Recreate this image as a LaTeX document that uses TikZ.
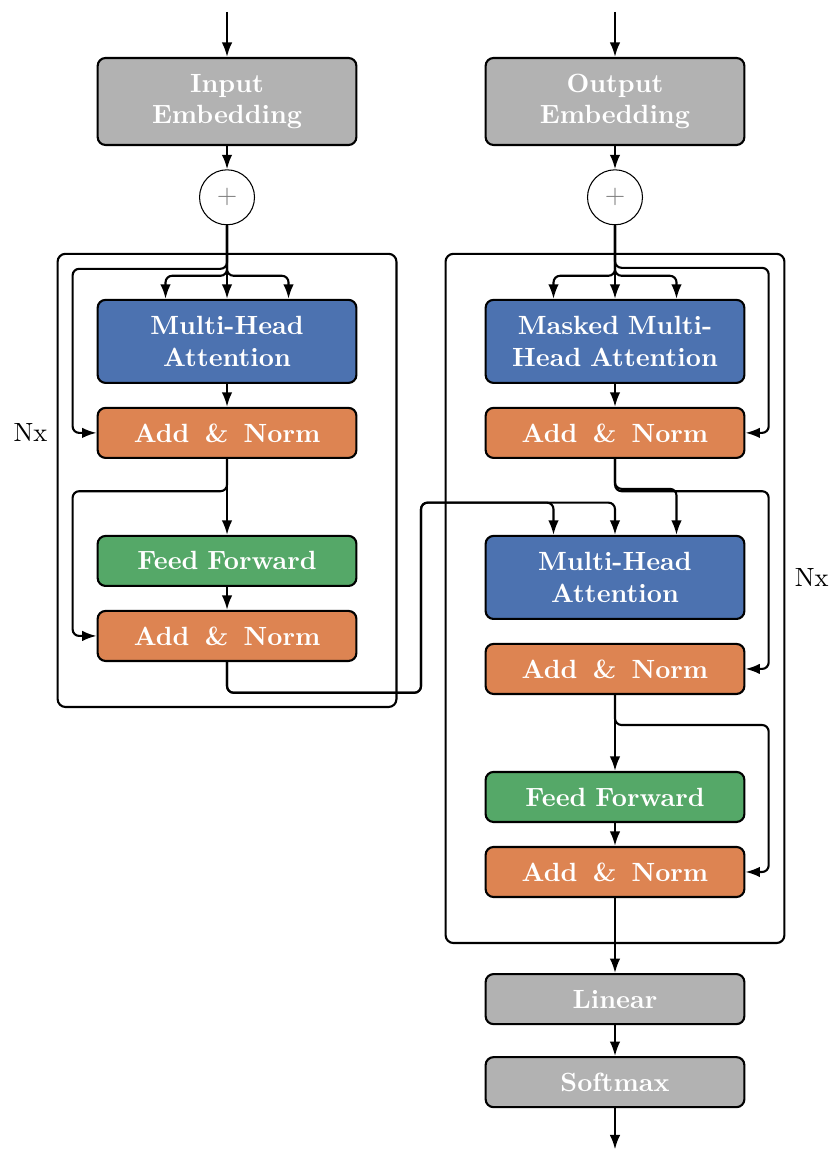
\documentclass[tikz,border=0pt]{standalone}
\usepackage{xcolor}
\usepackage{tikz}
\usetikzlibrary{shapes,arrows.meta,positioning,fit,calc}

\definecolor{attnblue}{HTML}{4C72B0}
\definecolor{normorange}{HTML}{DD8452}
\definecolor{ffgreen}{HTML}{55A868}

\begin{document}
\begin{tikzpicture}[
    >={Latex[length=5.5pt,width=4pt]},
    block/.style={rectangle, draw, thick, rounded corners=3pt, fill=black!30, text=white, text width=3.05cm, inner xsep=0.2cm, inner ysep=2pt, align=center, minimum height=0.667cm, font=\bfseries},
    tall/.style={block, minimum height=1.107cm},
    sumnode/.style={circle, draw, thin, minimum size=0.733cm, inner sep=0pt, text=gray},
    stack/.style={draw, thick, rounded corners=3pt, inner xsep=0.52cm, inner ysep=0.6cm},
    resid/.style={->, thick, rounded corners=2.5pt}
]

\useasboundingbox (0,0) rectangle (11.093,-15.32);

% encoder
\node[tall, minimum height=1.16cm] (inemb) at (3.027,-1.353) {Input\\Embedding};
\node[sumnode, below=0.31cm of inemb] (encsum) {$+$};
\node[tall, fill=attnblue, below=0.98cm of encsum] (encattn) {Multi-Head\\Attention};
\node[block, fill=normorange, below=0.305cm of encattn] (encnorm1) {Add\hspace{0.58em}\&\hspace{0.58em}Norm};
\node[block, fill=ffgreen, below=1.012cm of encnorm1] (encff) {Feed Forward};
\node[block, fill=normorange, below=0.305cm of encff] (encnorm2) {Add\hspace{0.58em}\&\hspace{0.58em}Norm};
\node[stack, fit=(encattn)(encnorm2)] (encbox) {};
\node[anchor=east] (encrep) at (encbox.west |- encnorm1) {Nx};

% decoder
\node[tall, minimum height=1.16cm] (outemb) at (8.2,-1.353) {Output\\Embedding};
\node[sumnode, below=0.31cm of outemb] (decsum) {$+$};
\node[tall, fill=attnblue, below=0.98cm of decsum] (decmask) {Masked Multi-\\Head Attention};
\node[block, fill=normorange, below=0.305cm of decmask] (decnorm1) {Add\hspace{0.58em}\&\hspace{0.58em}Norm};
\node[tall, fill=attnblue, below=1.012cm of decnorm1] (decattn) {Multi-Head\\Attention};
\node[block, fill=normorange, below=0.305cm of decattn] (decnorm2) {Add\hspace{0.58em}\&\hspace{0.58em}Norm};
\node[block, fill=ffgreen, below=1.012cm of decnorm2] (decff) {Feed Forward};
\node[block, fill=normorange, below=0.305cm of decff] (decnorm3) {Add\hspace{0.58em}\&\hspace{0.58em}Norm};
\node[stack, fit=(decmask)(decnorm3)] (decbox) {};
\node[anchor=west] (decrep) at (decbox.east |- decattn) {Nx};
\node[block, below=1.0cm of decnorm3] (linear) {Linear};
\node[block, below=0.412cm of linear] (softmax) {Softmax};

\coordinate[above=0.6cm of inemb] (encin);
\coordinate[above=0.6cm of outemb] (decin);
\coordinate[below=0.55cm of softmax] (decout);
\coordinate (gap) at ($(encbox.east)!0.5!(decbox.west)$);

% encoder connections
\draw[->, thick] (encin) -- (inemb);
\draw[->, thick] (inemb) -- (encsum);
\draw[->, thick] (encsum) -- (encattn);
\draw[resid] (encsum.south) |- ($(encattn.north)+(-0.82,0.307)$) -- ($(encattn.north)+(-0.82,0)$);
\draw[resid] (encsum.south) |- ($(encattn.north)+(0.82,0.307)$) -- ($(encattn.north)+(0.82,0)$);
\draw[resid] (encsum.south) |- ($(encattn.north west)+(-0.32,0.4)$) |- (encnorm1.west);
\draw[->, thick] (encattn) -- (encnorm1);
\draw[->, thick] (encnorm1) -- (encff);
\draw[resid] (encnorm1.south) |- ($(encnorm1.south west)+(-0.32,-0.43)$) |- (encnorm2.west);
\draw[->, thick] (encff) -- (encnorm2);

% encoder output into the second attention block
\draw[resid] (encnorm2.south) |- ($(gap |- encnorm2.south)+(0,-0.41)$) |- ($(decattn.north)+(-0.82,0.43)$) -- ($(decattn.north)+(-0.82,0)$);
\draw[resid] (encnorm2.south) |- ($(gap |- encnorm2.south)+(0,-0.41)$) |- ($(decattn.north)+(0,0.43)$) -- (decattn.north);

% decoder connections
\draw[->, thick] (decin) -- (outemb);
\draw[->, thick] (outemb) -- (decsum);
\draw[->, thick] (decsum) -- (decmask);
\draw[resid] (decsum.south) |- ($(decmask.north)+(-0.82,0.307)$) -- ($(decmask.north)+(-0.82,0)$);
\draw[resid] (decsum.south) |- ($(decmask.north)+(0.82,0.307)$) -- ($(decmask.north)+(0.82,0)$);
\draw[resid] (decsum.south) |- ($(decmask.north east)+(0.31,0.413)$) |- (decnorm1.east);
\draw[->, thick] (decmask) -- (decnorm1);
\draw[resid] (decnorm1.south) |- ($(decattn.north)+(0.82,0.613)$) -- ($(decattn.north)+(0.82,0)$);
\draw[resid] (decnorm1.south) |- ($(decnorm1.south east)+(0.31,-0.43)$) |- (decnorm2.east);
\draw[->, thick] (decnorm2) -- (decff);
\draw[resid] (decnorm2.south) |- ($(decnorm2.south east)+(0.31,-0.4)$) |- (decnorm3.east);
\draw[->, thick] (decff) -- (decnorm3);
\draw[->, thick] (decnorm3) -- (linear);
\draw[->, thick] (linear) -- (softmax);
\draw[->, thick] (softmax) -- (decout);

\end{tikzpicture}
\end{document}
